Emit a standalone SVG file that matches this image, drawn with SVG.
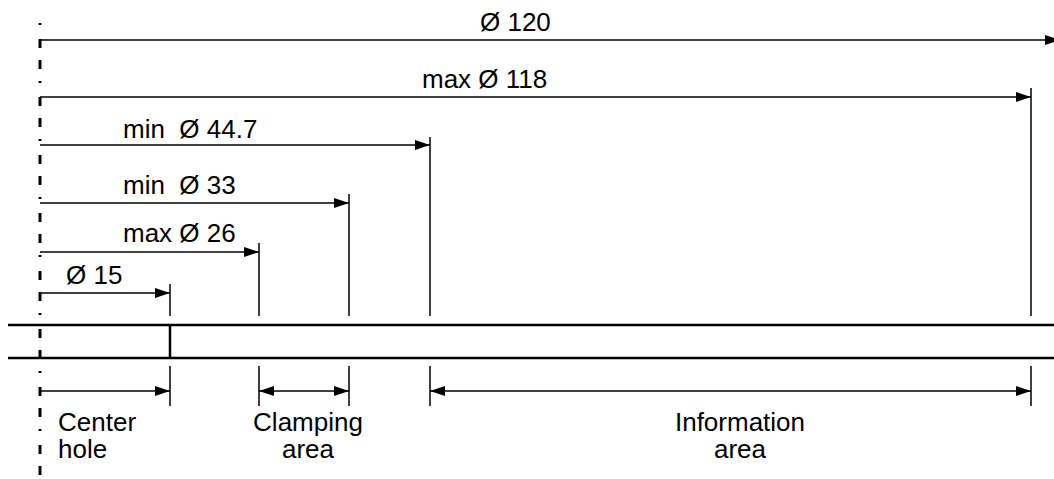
<svg xmlns="http://www.w3.org/2000/svg" width="1054" height="479" viewBox="0 0 1054 479">
<style>
.t{font-family:"Liberation Sans",Arial,Helvetica,sans-serif;font-size:26px;fill:#000}
.dim{stroke:#000;stroke-width:1.5;fill:none}
.ext{stroke:#000;stroke-width:1.5;fill:none}
.disc{stroke:#000;stroke-width:2.5;fill:none}
.axis{stroke:#000;stroke-width:3;fill:none;stroke-dasharray:2 14 9 12 9 12}
</style>
<defs>
<marker id="ah" markerUnits="userSpaceOnUse" markerWidth="15" markerHeight="11" refX="15" refY="5.5" orient="auto-start-reverse">
<path d="M0,0.5 L15,5.5 L0,10.5 z" fill="#000"/>
</marker>
</defs>
<rect width="1054" height="479" fill="#fff"/>
<g id="disc">
<line class="disc" x1="8" y1="325" x2="1054" y2="325"/>
<line class="disc" x1="8" y1="358" x2="1054" y2="358"/>
<line class="disc" x1="170" y1="325" x2="170" y2="358"/>
</g>
<g id="axis">
<line class="axis" x1="40" y1="23" x2="40" y2="479"/>
</g>
<g id="extension-lines">
<line class="ext" x1="1031" y1="88" x2="1031" y2="316"/>
<line class="ext" x1="430" y1="137" x2="430" y2="316"/>
<line class="ext" x1="349" y1="194" x2="349" y2="316"/>
<line class="ext" x1="259" y1="243" x2="259" y2="316"/>
<line class="ext" x1="170" y1="284" x2="170" y2="316"/>
<line class="ext" x1="170" y1="366" x2="170" y2="406"/>
<line class="ext" x1="259" y1="366" x2="259" y2="406"/>
<line class="ext" x1="349" y1="366" x2="349" y2="406"/>
<line class="ext" x1="430" y1="366" x2="430" y2="406"/>
<line class="ext" x1="1031" y1="366" x2="1031" y2="406"/>
</g>
<g id="connectors">
<line class="dim" x1="40" y1="40" x2="1060" y2="40" marker-end="url(#ah)"/>
<line class="dim" x1="40" y1="97" x2="1031" y2="97" marker-end="url(#ah)"/>
<line class="dim" x1="40" y1="145" x2="430" y2="145" marker-end="url(#ah)"/>
<line class="dim" x1="40" y1="203" x2="349" y2="203" marker-end="url(#ah)"/>
<line class="dim" x1="40" y1="252" x2="259" y2="252" marker-end="url(#ah)"/>
<line class="dim" x1="40" y1="293" x2="170" y2="293" marker-end="url(#ah)"/>
<line class="dim" x1="40" y1="391" x2="170" y2="391" marker-end="url(#ah)"/>
<line class="dim" x1="259" y1="391" x2="349" y2="391" marker-start="url(#ah)" marker-end="url(#ah)"/>
<line class="dim" x1="430" y1="391" x2="1031" y2="391" marker-start="url(#ah)" marker-end="url(#ah)"/>
</g>
<g id="labels">
<text class="t" x="480" y="31">Ø 120</text>
<text class="t" x="422" y="88">max Ø 118</text>
<text class="t" x="123" y="138" xml:space="preserve">min  Ø 44.7</text>
<text class="t" x="123" y="194" xml:space="preserve">min  Ø 33</text>
<text class="t" x="123" y="242">max Ø 26</text>
<text class="t" x="66" y="284">Ø 15</text>
<text class="t" x="58" y="431">Center</text>
<text class="t" x="58" y="458">hole</text>
<text class="t" x="308" y="431" text-anchor="middle">Clamping</text>
<text class="t" x="308" y="458" text-anchor="middle">area</text>
<text class="t" x="740" y="431" text-anchor="middle">Information</text>
<text class="t" x="740" y="458" text-anchor="middle">area</text>
</g>
</svg>
